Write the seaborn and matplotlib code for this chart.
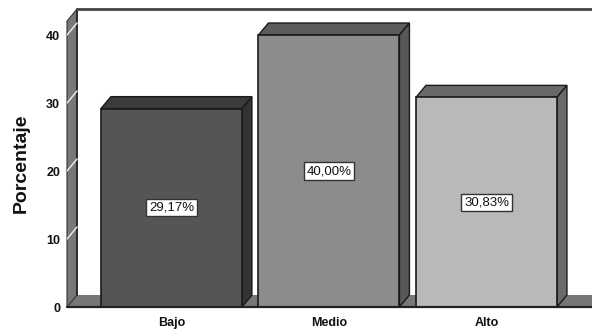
import matplotlib
matplotlib.use("Agg")
import matplotlib.pyplot as plt
import pandas as pd
import seaborn as sns
from matplotlib.patches import Polygon

categories = ["Bajo", "Medio", "Alto"]
percentages = [29.17, 40.00, 30.83]
value_labels = ["29,17%", "40,00%", "30,83%"]
y_ticks = [0, 10, 20, 30, 40]
front_colors = ["#555555", "#8c8c8c", "#b9b9b9"]
top_colors = ["#3b3b3b", "#5c5c5c", "#696969"]
side_colors = ["#333333", "#585858", "#6b6b6b"]
wall_color = "#777777"

W, H = 592, 329
sns.set_theme(style="white")
plt.rcParams["font.family"] = ["Liberation Sans", "DejaVu Sans"]

fig = plt.figure(figsize=(W / 100, H / 100), dpi=100, facecolor="white")
ax = fig.add_axes([67 / W, (H - 307) / H, (W - 67) / W, 307 / H])

df = pd.DataFrame({"categoria": categories, "porcentaje": percentages})
bar_width = 0.895
sns.barplot(data=df, x="categoria", y="porcentaje", hue="categoria",
            order=categories, hue_order=categories, palette=front_colors,
            saturation=1, width=bar_width, dodge=False, legend=False,
            edgecolor="#1a1a1a", linewidth=1.2, ax=ax, zorder=4)

ax.set_xlim(-0.663, 2.67)
ax.set_ylim(0, 45.15)
x0, x1 = ax.get_xlim()

# Oblique depth of the pseudo-3D box, in data units
dx = 10 / 157.5
dy = 12 / 6.8
wall_top = 42.05

# Floor and left wall
ax.add_patch(Polygon([(x0, 0), (x0 + dx, dy), (x1, dy), (x1, 0)],
                     fc=wall_color, ec="none", zorder=1))
ax.add_patch(Polygon([(x0, 0), (x0 + dx, dy), (x0 + dx, wall_top + dy), (x0, wall_top)],
                     fc=wall_color, ec="#333333", lw=0.8, zorder=1, clip_on=False))
ax.plot([x0 + dx, x0 + dx], [dy, wall_top + dy], color="#222222", lw=1.2, zorder=2)
ax.plot([x0 + dx, x1], [wall_top + dy, wall_top + dy], color="#444444", lw=2, zorder=2)
ax.plot([x0, x1], [0, 0], color="#222222", lw=1.6, zorder=5, clip_on=False)

# White gridline stubs running up the wall
for t in y_ticks[1:]:
    ax.plot([x0, x0 + dx], [t, t + dy], color="#e8e8e8", lw=1.1, zorder=2)

# Top and side faces of each bar, then its value box
half = bar_width / 2
for i, v in enumerate(percentages):
    l, r = i - half, i + half
    ax.add_patch(Polygon([(l, v), (l + dx, v + dy), (r + dx, v + dy), (r, v)],
                         fc=top_colors[i], ec="#1a1a1a", lw=1, zorder=3))
    ax.add_patch(Polygon([(r, 0), (r + dx, dy), (r + dx, v + dy), (r, v)],
                         fc=side_colors[i], ec="#1a1a1a", lw=1, zorder=3))
    ax.text(i, v / 2, value_labels[i], ha="center", va="center", fontsize=9.5,
            color="#111111", zorder=6,
            bbox=dict(boxstyle="square,pad=0.2", fc="white", ec="#333333", lw=1))

sns.despine(ax=ax, left=True, bottom=True, top=True, right=True)
ax.set_yticks(y_ticks)
ax.set_yticklabels([str(t) for t in y_ticks], fontsize=9, fontweight="bold", color="#111111")
ax.set_xticks(range(len(categories)))
ax.set_xticklabels(categories, fontsize=9, fontweight="bold", color="#111111")
ax.tick_params(axis="both", length=0)
ax.tick_params(axis="y", pad=5)
ax.tick_params(axis="x", pad=7)
ax.set_xlabel("")
ax.set_ylabel("Porcentaje", fontsize=14, fontweight="bold", color="#111111")
ax.yaxis.set_label_coords(-37 / (W - 67), (307 - 163) / 307)
ax.patch.set_visible(False)

fig.savefig("out.png", dpi=100, facecolor="white")
